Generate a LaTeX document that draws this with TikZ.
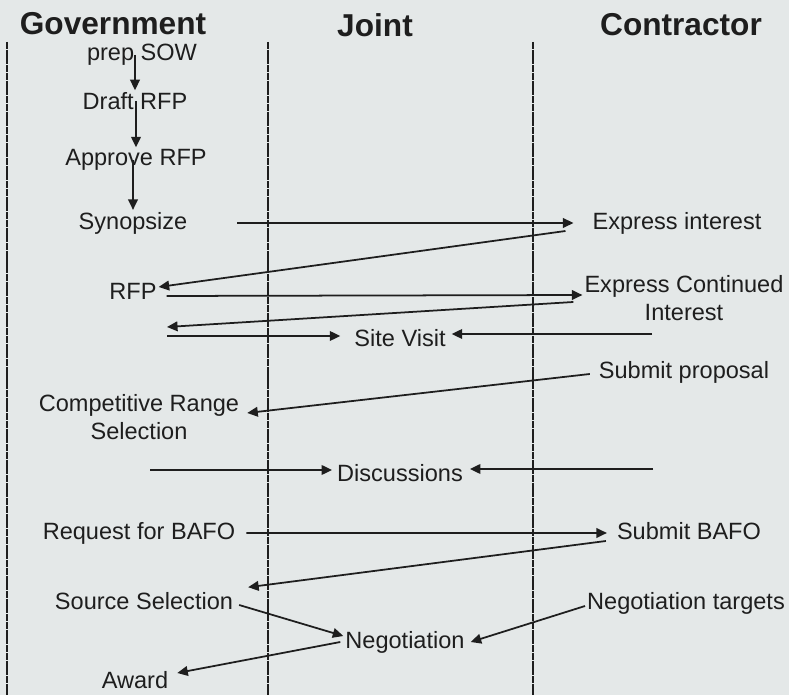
\documentclass[tikz,border=0pt]{standalone}
\usepackage{fontspec}
\setmainfont{Liberation Sans}
\usepackage{tikz}
\usetikzlibrary{
    arrows.meta,
    calc,
    positioning
}
\definecolor{sheet}{RGB}{228,232,232}
\definecolor{ink}{RGB}{30,30,30}

\begin{document}
\begin{tikzpicture}[scale=1.0,
    head/.style={font=\fontsize{18}{20}\selectfont\bfseries, text=ink},
    act/.style={font=\fontsize{13.4}{16}\selectfont, text=ink, inner sep=1pt, align=center},
    lane/.style={ink, line width=0.7pt, dash pattern=on 4pt off 0.4pt},
    msg/.style={ink, line width=1pt, -{Triangle[length=6pt, width=5.5pt]}}]
    % Background
    \fill[sheet] (0,0) rectangle (15.78,-13.9);

    % Column titles
    \node[head] (gov) at (2.26,-0.48) {Government};
    \node[head] (joint) at (7.5,-0.5) {Joint};
    \node[head] (contr) at (13.62,-0.5) {Contractor};

    % Swim lanes
    \foreach \x in {0.14,5.36,10.66}
        \draw[lane] (\x,-0.84) -- (\x,-13.9);

    % Government steps
    \node[act] (sow) at (2.84,-1.1) {prep SOW};
    \node[act] (draft) at (2.7,-2.02) {Draft RFP};
    \node[act] (approve) at (2.72,-3.2) {Approve RFP};
    \node[act] (syn) at (2.66,-4.46) {Synopsize};
    \node[act] (rfp) at (2.66,-5.82) {RFP};
    \node[act] (crs) at (2.78,-8.34) {Competitive Range\\Selection};
    \node[act] (rbafo) at (2.78,-10.66) {Request for BAFO};
    \node[act] (ss) at (2.88,-12.02) {Source Selection};
    \node[act] (award) at (2.7,-13.6) {Award};

    % Joint steps
    \node[act] (sv) at (8.0,-6.76) {Site Visit};
    \node[act] (disc) at (8.0,-9.46) {Discussions};
    \node[act] (neg) at (8.1,-12.84) {Negotiation};

    % Contractor steps
    \node[act] (exint) at (13.54,-4.46) {Express interest};
    \node[act] (eci) at (13.68,-5.96) {Express Continued\\Interest};
    \node[act] (sp) at (13.68,-7.44) {Submit proposal};
    \node[act] (sbafo) at (13.78,-10.62) {Submit BAFO};
    \node[act] (nt) at (13.72,-12.06) {Negotiation targets};

    % Free ends
    \coordinate (back) at (3.34,-6.54);
    \coordinate (gsv) at (3.34,-6.72);
    \coordinate (csv) at (13.04,-6.68);
    \coordinate (gdisc) at (3.0,-9.4);
    \coordinate (cdisc) at (13.06,-9.38);

    % RFP preparation
    \draw[msg] (sow.center -| draft.north) -- (draft.north);
    \draw[msg] (draft.center -| approve.north) -- (approve.north);
    \draw[msg] (approve.center -| syn.north) -- (syn.north);

    % Solicitation
    \draw[msg] ([xshift=0.96cm]syn.east) -- ([xshift=-0.34cm]exint.west);
    \draw[msg] ([xshift=-0.5cm,yshift=-0.16cm]exint.west) -- ([yshift=0.08cm]rfp.east);
    \draw[msg] ([xshift=0.16cm,yshift=-0.1cm]rfp.east) -- ([yshift=0.06cm]eci.west);
    \draw[msg] ([xshift=-0.18cm,yshift=-0.08cm]eci.west) -- (back);
    \draw[msg] (gsv) -- ([xshift=-0.24cm,yshift=0.04cm]sv.west);
    \draw[msg] (csv) -- ([xshift=0.08cm,yshift=0.08cm]sv.east);

    % Evaluation
    \draw[msg] ([xshift=-0.14cm,yshift=-0.04cm]sp.west) -- ([xshift=0.12cm,yshift=0.08cm]crs.east);
    \draw[msg] (gdisc) -- ([xshift=-0.06cm,yshift=0.06cm]disc.west);
    \draw[msg] (cdisc) -- ([xshift=0.1cm,yshift=0.08cm]disc.east);
    \draw[msg] ([xshift=0.18cm]rbafo.east) -- ([xshift=-0.16cm,yshift=-0.04cm]sbafo.west);
    \draw[msg] ([xshift=-0.18cm,yshift=-0.2cm]sbafo.west) -- ([xshift=0.26cm,yshift=0.06cm]ss.north east);

    % Award
    \draw[msg] ([xshift=0.08cm,yshift=-0.08cm]ss.east) -- ([yshift=0.12cm]neg.west);
    \draw[msg] ([yshift=-0.06cm]nt.west) -- ([xshift=0.08cm]neg.east);
    \draw[msg] ([xshift=-0.06cm]neg.west) -- ([xshift=0.14cm,yshift=0.14cm]award.east);
\end{tikzpicture}
\end{document}
